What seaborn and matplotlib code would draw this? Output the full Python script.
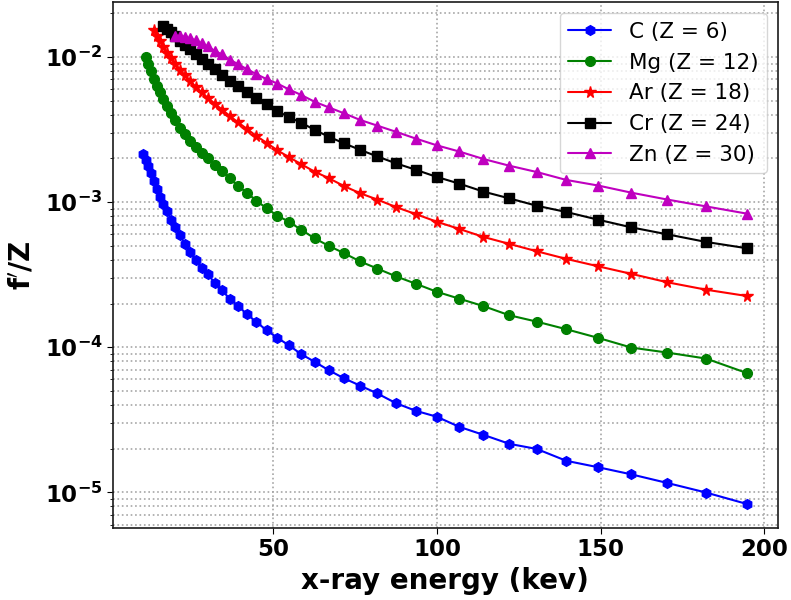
import numpy as np
import pandas as pd
import matplotlib
matplotlib.use("Agg")
import matplotlib.pyplot as plt
import seaborn as sns

# x-ray energy grid (keV), shared by all series
energy = [10.34, 11.05, 11.82, 12.63, 13.50, 14.43, 15.43, 16.49, 17.63, 18.85,
          20.15, 21.54, 23.02, 24.61, 26.31, 28.13, 30.07, 32.14, 34.36, 36.73,
          39.27, 41.98, 44.87, 47.97, 51.28, 54.82, 58.60, 62.64, 66.97, 71.59,
          76.53, 81.81, 87.45, 93.49, 99.94, 106.8, 114.2, 122.1, 130.5, 139.5,
          149.2, 159.4, 170.4, 182.2, 194.8]

C_vals = [2.15e-3, 1.95e-3, 1.76e-3, 1.58e-3, 1.39e-3, 1.23e-3, 1.09e-3, 9.68e-4, 8.61e-4, 7.55e-4,
          6.73e-4, 5.90e-4, 5.17e-4, 4.54e-4, 4.02e-4, 3.52e-4, 3.17e-4, 2.78e-4, 2.46e-4, 2.16e-4,
          1.92e-4, 1.69e-4, 1.49e-4, 1.31e-4, 1.16e-4, 1.03e-4, 8.94e-5, 7.94e-5, 6.94e-5, 6.11e-5,
          5.44e-5, 4.80e-5, 4.12e-5, 3.65e-5, 3.32e-5, 2.83e-5, 2.49e-5, 2.16e-5, 1.99e-5, 1.65e-5,
          1.49e-5, 1.33e-5, 1.16e-5, 9.97e-6, 8.30e-6]

Mg_vals = [1.00e-2, 8.91e-3, 7.98e-3, 7.08e-3, 6.34e-3, 5.72e-3, 5.12e-3, 4.62e-3, 4.11e-3,
           3.65e-3, 3.26e-3, 2.94e-3, 2.64e-3, 2.40e-3, 2.18e-3, 2.00e-3, 1.80e-3, 1.63e-3, 1.46e-3,
           1.29e-3, 1.16e-3, 1.02e-3, 9.07e-4, 8.05e-4, 7.32e-4, 6.43e-4, 5.63e-4, 4.99e-4, 4.45e-4,
           3.90e-4, 3.48e-4, 3.08e-4, 2.74e-4, 2.41e-4, 2.16e-4, 1.92e-4, 1.66e-4, 1.50e-4, 1.33e-4,
           1.16e-4, 9.94e-5, 9.18e-5, 8.35e-5, 6.62e-5]

Ar_vals = [1.525e-2, 1.394e-2, 1.28e-2, 1.17e-2, 1.07e-2, 9.80e-3,
           8.91e-3, 8.17e-3, 7.45e-3, 6.87e-3, 6.24e-3, 5.69e-3, 5.22e-3, 4.77e-3, 4.34e-3, 3.92e-3,
           3.54e-3, 3.19e-3, 2.85e-3, 2.56e-3, 2.27e-3, 2.04e-3, 1.82e-3, 1.62e-3, 1.46e-3, 1.29e-3,
           1.15e-3, 1.04e-3, 9.24e-4, 8.27e-4, 7.32e-4, 6.53e-4, 5.75e-4, 5.15e-4, 4.58e-4, 4.06e-4,
           3.61e-4, 3.20e-4, 2.80e-4, 2.49e-4, 2.25e-4]

Cr_vals = [1.625e-2, 1.55e-2, 1.48e-2, 1.39e-2, 1.29e-2, 1.21e-2, 1.13e-2, 1.05e-2, 9.69e-3,
           8.98e-3, 8.30e-3, 7.55e-3, 6.87e-3, 6.31e-3, 5.75e-3, 5.23e-3, 4.71e-3, 4.24e-3, 3.84e-3,
           3.52e-3, 3.14e-3, 2.82e-3, 2.54e-3, 2.29e-3, 2.06e-3, 1.85e-3, 1.67e-3, 1.49e-3, 1.34e-3,
           1.18e-3, 1.06e-3, 9.43e-4, 8.54e-4, 7.56e-4, 6.69e-4, 5.99e-4, 5.31e-4, 4.80e-4]

Zn_vals = [1.40e-2, 1.387e-2, 1.37e-2, 1.34e-2, 1.30e-2, 1.24e-2, 1.18e-2, 1.10e-2, 1.04e-2,
           9.57e-3, 8.91e-3, 8.23e-3, 7.61e-3, 7.03e-3, 6.55e-3, 5.97e-3, 5.46e-3, 4.91e-3, 4.49e-3,
           4.09e-3, 3.68e-3, 3.36e-3, 3.05e-3, 2.74e-3, 2.46e-3, 2.23e-3, 1.98e-3, 1.78e-3, 1.61e-3,
           1.42e-3, 1.30e-3, 1.16e-3, 1.04e-3, 9.33e-4, 8.31e-4]

labels = ["C (Z = 6)", "Mg (Z = 12)", "Ar (Z = 18)", "Cr (Z = 24)", "Zn (Z = 30)"]
series = [C_vals, Mg_vals, Ar_vals, Cr_vals, Zn_vals]
colors = ["b", "g", "r", "k", "m"]
markers = ["h", "o", "*", "s", "^"]
msizes = [7, 7, 8.5, 7, 7.5]

sns.set_style("ticks", rc={"text.color": "black", "axes.labelcolor": "black",
                           "xtick.color": "black", "ytick.color": "black",
                           "axes.edgecolor": "black"})
plt.rcParams["font.family"] = ["DejaVu Sans"]
plt.rcParams["mathtext.default"] = "bf"

fig, ax = plt.subplots(figsize=(7.91, 6.0), dpi=100)
fig.subplots_adjust(left=0.143, right=0.983, top=0.996, bottom=0.12)

for vals, lab, c, m, ms in zip(series, labels, colors, markers, msizes):
    x = energy[len(energy) - len(vals):]
    df = pd.DataFrame({"E": x, "f": vals})
    sns.lineplot(data=df, x="E", y="f", ax=ax, color=c, marker=m, markersize=ms,
                 markeredgecolor=c, markerfacecolor=c, markeredgewidth=1,
                 linewidth=1.5, label=lab, errorbar=None, sort=False)

ax.set_yscale("log")
ax.set_xticks([50, 100, 150, 200])
ax.grid(True, which="major", axis="both", linestyle=":", color="0.65", linewidth=1.2)
ax.grid(True, which="minor", axis="y", linestyle=":", color="0.65", linewidth=1.2)
for s in ax.spines.values():
    s.set_visible(True)
    s.set_color("0.1")
    s.set_linewidth(1.2)

ax.set_xlabel("x-ray energy (kev)", fontsize=20, fontweight="bold")
ax.set_ylabel(r"f$^{\prime}$/Z", fontsize=20, fontweight="bold", labelpad=6)
ax.tick_params(axis="both", which="major", labelsize=16.5, direction="out", length=4)
ax.tick_params(axis="y", which="minor", length=2.5)
for t in ax.get_xticklabels() + ax.get_yticklabels():
    t.set_fontweight("bold")

leg = ax.legend(loc="upper right", fontsize=15.5, framealpha=0.8, fancybox=True)

fig.savefig("out.png", dpi=100)
